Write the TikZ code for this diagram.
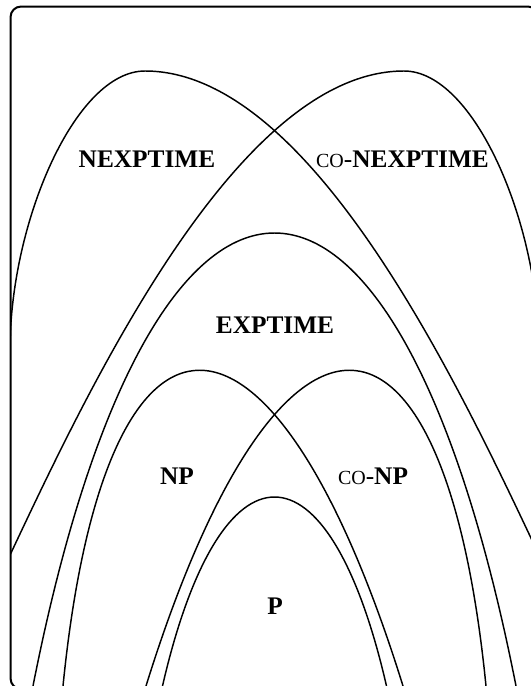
\documentclass[tikz,border=0pt]{standalone}
\usepackage{fontspec}
\setmainfont{Liberation Serif}
\newcommand{\classsize}{\fontsize{19}{22}\selectfont}
\newcommand{\coprefix}{{\mdseries\fontsize{15}{16}\selectfont CO\classsize-}}

\begin{document}
\begin{tikzpicture}[
        x=0.75pt, y=-0.75pt,
        frame/.style={draw, line width=1.5pt, rounded corners=8pt},
        bound/.style={line width=1.1pt},
        class/.style={font=\classsize\bfseries, inner sep=0pt}
    ]
    \useasboundingbox (0,0) rectangle (531,686);

    % Class boundaries, cut at the frame
    \begin{scope}
        \clip[rounded corners=8pt] (10.5,6.5) rectangle (538.5,689);
        % NEXPTIME and co-NEXPTIME
        \draw[bound] (10,350) .. controls (10,223) and (75,71) .. (145,71)
            .. controls (315,71) and (466,400) .. (546,570);
        \draw[bound] (539,350) .. controls (539,223) and (474,71) .. (404,71)
            .. controls (234,71) and (83,400) .. (3,570);
        % EXPTIME
        \draw[bound] (33,686) .. controls (152,82) and (397,82) .. (516,686);
        % NP and co-NP
        \draw[bound] (63,686) .. controls (105,265) and (272,265) .. (403,686);
        \draw[bound] (486,686) .. controls (444,265) and (277,265) .. (146,686);
        % P
        \draw[bound] (162.5,686) .. controls (220.5,434) and (328.5,434) .. (386.5,686);
    \end{scope}

    % Frame
    \draw[frame] (10.5,6.5) rectangle (538.5,689);

    % Labels
    \node[class] (nexptime) at (147,159) {NEXPTIME};
    \node[class] (conexptime) at (402.5,159) {\coprefix NEXPTIME};
    \node[class] (exptime) at (275,325) {EXPTIME};
    \node[class] (np) at (177,476) {NP};
    \node[class] (conp) at (373,476) {\coprefix NP};
    \node[class] (p) at (275,606) {P};

\end{tikzpicture}
\end{document}
